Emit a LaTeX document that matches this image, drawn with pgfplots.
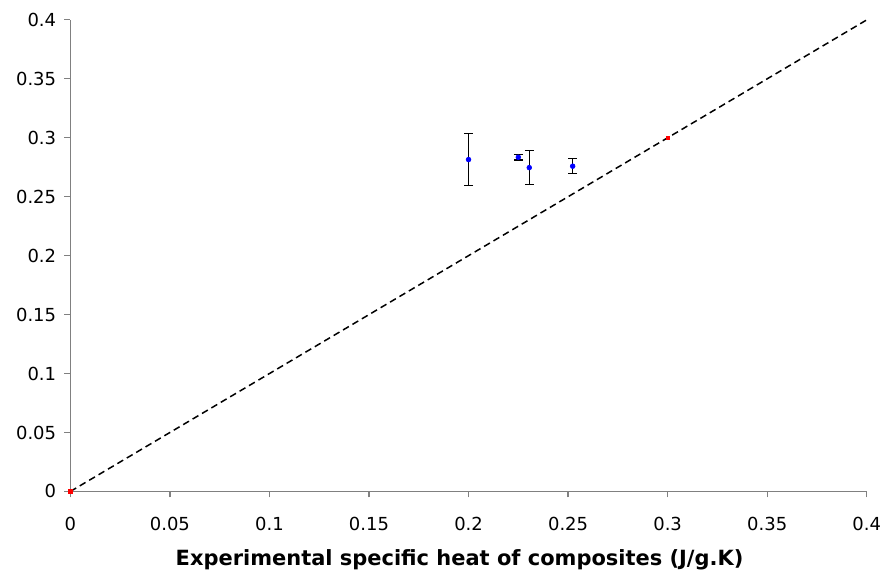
\documentclass[border=0pt]{standalone}
\usepackage{fontspec}
\setmainfont{DejaVu Sans}
\usepackage{pgfplots}
\pgfplotsset{compat=1.18}

\definecolor{axisgray}{RGB}{128,128,128}
\definecolor{ptblue}{RGB}{0,0,255}
\definecolor{ptred}{RGB}{255,0,0}

\begin{document}
\begin{tikzpicture}
\begin{axis}[
    scale only axis,
    width=532pt, height=315pt,
    xmin=0, xmax=0.4, ymin=0, ymax=0.4,
    axis lines*=left,
    axis line style={draw=axisgray, line width=0.8pt, -},
    xtick={0,0.05,...,0.4}, ytick={0,0.05,...,0.4},
    xticklabels={0,0.05,0.1,0.15,0.2,0.25,0.3,0.35,0.4},
    yticklabels={0,0.05,0.1,0.15,0.2,0.25,0.3,0.35,0.4},
    tick align=outside, major tick length=4pt,
    every tick/.style={draw=axisgray, line width=0.8pt},
    ticklabel style={font=\fontsize{12}{14}\selectfont},
    xticklabel style={yshift=-9.5pt},
    yticklabel style={xshift=-2pt},
    xlabel={\textbf{Experimental specific heat of composites (J/g.K)}},
    xlabel style={font=\fontsize{14}{16}\selectfont, at={(axis description cs:0.5,0)}, anchor=center, yshift=-45.5pt, xshift=-6pt},
    clip=false,
]
% line of equality
\addplot[black, line width=1pt, dash pattern=on 4.5pt off 2.8pt] coordinates {(0,0) (0.4,0.4)};
\addplot[only marks, mark=square*, mark size=1.2pt, ptred] coordinates {(0,0) (0.3,0.3)};
% measured points with error bars
\addplot[only marks, mark=*, mark size=1.6pt, mark options={ptblue},
    error bars/.cd, y dir=both, y explicit,
    error bar style={black, line width=1pt},
    error mark options={rotate=90, black, mark size=3pt, line width=1pt}]
coordinates {
    (0.2,0.2815) +- (0,0.022)
    (0.225,0.2835) +- (0,0.0025)
    (0.2305,0.2747) +- (0,0.0145)
    (0.2523,0.2759) +- (0,0.0064)
};
\end{axis}
\path (current axis.south west) ++(-47pt,-50pt) coordinate (bl);
\path (current axis.north east) ++(11pt,13.3pt) coordinate (tr);
\useasboundingbox (bl) rectangle (tr);
\end{tikzpicture}
\end{document}
